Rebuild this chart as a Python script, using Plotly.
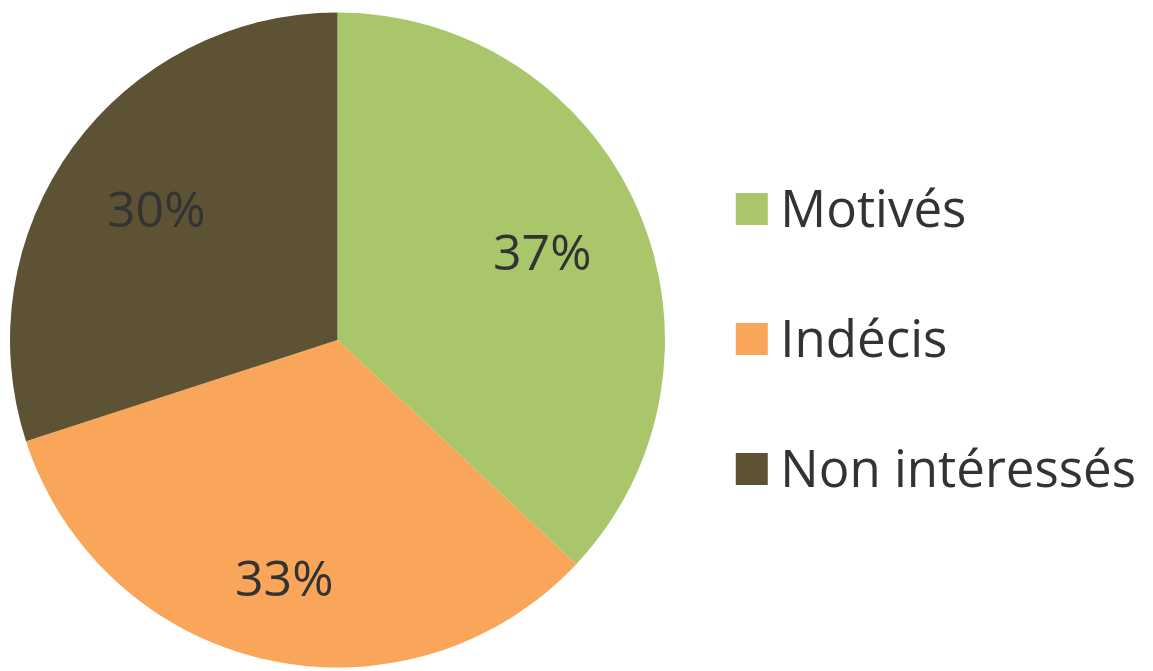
import math
import plotly.graph_objects as go

categories = ["Motivés", "Indécis", "Non intéressés"]
values = [37, 33, 30]
colors = ["#A9C66B", "#F9A65A", "#5D5233"]

FONT = "Open Sans"
TEXT_COLOR = "#333333"
FONT_SIZE = 51

W, H = 1153, 671
PIE_X = [10 / W, 665 / W]
PIE_Y = [3 / H, 659 / H]

fig = go.Figure()

fig.add_trace(go.Pie(
    labels=categories,
    values=values,
    sort=False,
    direction="clockwise",
    rotation=0,
    marker=dict(colors=colors, line=dict(width=0)),
    textinfo="none",
    domain=dict(x=PIE_X, y=PIE_Y),
    showlegend=False,
    hoverinfo="label+percent",
))

# percentage labels placed like the spreadsheet "best fit" labels
cx = (PIE_X[0] + PIE_X[1]) / 2 * W
cy = (PIE_Y[0] + PIE_Y[1]) / 2 * H  # from bottom
r = min((PIE_X[1] - PIE_X[0]) * W, (PIE_Y[1] - PIE_Y[0]) * H) / 2
total = sum(values)
hw, hh = 50, 20          # half size of the label box (px)
R = 0.845 * r            # farthest corner of the label box from the centre
cum = 0
for v in values:
    mid = (cum + v / 2) / total * 2 * math.pi
    cum += v
    ux, uy = math.sin(mid), math.cos(mid)
    c = (math.copysign(hw, ux), math.copysign(hh, uy))
    uc = ux * c[0] + uy * c[1]
    d = -uc + math.sqrt(uc * uc - (c[0] ** 2 + c[1] ** 2 - R * R))
    px, py = cx + d * ux, cy + d * uy
    fig.add_annotation(
        x=px / W, y=py / H, xref="paper", yref="paper",
        text=f"{round(v / total * 100)}%", showarrow=False,
        xanchor="center", yanchor="middle",
        font=dict(family=FONT, size=50, color=TEXT_COLOR),
    )

# legend drawn as scatter traces on their own axes
idx = list(range(len(categories)))
fig.add_trace(go.Scatter(
    x=[0] * len(categories),
    y=idx,
    mode="markers",
    marker=dict(symbol="square", size=32, color=colors, line=dict(width=0)),
    showlegend=False,
    hoverinfo="skip",
    cliponaxis=False,
))
fig.add_trace(go.Scatter(
    x=[0.062] * len(categories),
    y=[i + 0.04 for i in idx],
    mode="text",
    text=categories,
    textposition="middle right",
    textfont=dict(family=FONT, size=FONT_SIZE, color=TEXT_COLOR),
    showlegend=False,
    hoverinfo="skip",
    cliponaxis=False,
))

fig.update_layout(
    width=W,
    height=H,
    margin=dict(l=0, r=0, t=0, b=0),
    paper_bgcolor="white",
    plot_bgcolor="white",
    showlegend=False,
    xaxis=dict(domain=[0.6, 1.0], range=[-0.13, 0.87], visible=False, fixedrange=True),
    yaxis=dict(range=[3.5538, -1.6077], visible=False, fixedrange=True),
)

fig.write_html("out.html", config={"displayModeBar": False},
               post_script="document.body.style.margin='0';")
